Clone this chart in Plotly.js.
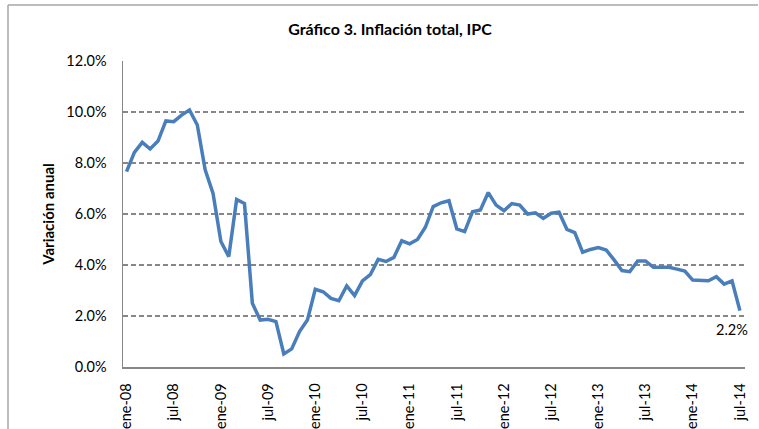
<!DOCTYPE html>
<html>
<head>
<meta charset="utf-8">
<script src="https://cdn.plot.ly/plotly-3.0.1.min.js"></script>
<style>
  html, body { margin: 0; padding: 0; background: #ffffff; }
  #chart { width: 759px; height: 429px; }
</style>
</head>
<body>
<div id="chart"></div>
<script>
// Month names (Spanish abbreviations) and years used to build the category labels
const MESES = ["ene", "feb", "mar", "abr", "may", "jun", "jul", "ago", "sep", "oct", "nov", "dic"];
const YEARS = ["08", "09", "10", "11", "12", "13", "14"];

// Annual inflation (%) by month, ene-08 .. jul-14
const inflacion2008 = [7.66, 8.42, 8.81, 8.55, 8.86, 9.65, 9.62, 9.88, 10.08, 9.49, 7.73, 6.81];
const inflacion2009 = [4.92, 4.33, 6.57, 6.41, 2.50, 1.84, 1.87, 1.78, 0.51, 0.71, 1.39, 1.84];
const inflacion2010 = [3.05, 2.95, 2.69, 2.60, 3.18, 2.80, 3.38, 3.62, 4.22, 4.14, 4.30, 4.95];
const inflacion2011 = [4.83, 5.00, 5.48, 6.29, 6.44, 6.52, 5.42, 5.31, 6.09, 6.16, 6.84, 6.35];
const inflacion2012 = [6.13, 6.41, 6.35, 6.00, 6.05, 5.83, 6.03, 6.07, 5.40, 5.27, 4.50, 4.61];
const inflacion2013 = [4.68, 4.59, 4.20, 3.78, 3.74, 4.16, 4.16, 3.91, 3.91, 3.91, 3.84, 3.76];
const inflacion2014 = [3.41, 3.38, 3.38, 3.54, 3.25, 3.38, 2.21];

const yTickVals = [0, 2, 4, 6, 8, 10, 12];
const yTickText = ["0.0%", "2.0%", "4.0%", "6.0%", "8.0%", "10.0%", "12.0%"];
const lastLabel = "2.2%";

const valores = [].concat(inflacion2008, inflacion2009, inflacion2010,
  inflacion2011, inflacion2012, inflacion2013, inflacion2014);

const meses = [];
YEARS.forEach(y => MESES.forEach(m => meses.push(m + "-" + y)));
meses.length = valores.length;

const xTickVals = meses.filter((m, i) => i % 6 === 0);
const idx = meses.map((m, i) => i);

const FONT = "Lato, 'Open Sans', sans-serif";
const GRAY = "#878787";

const trace = {
  x: idx,
  y: valores,
  type: "scatter",
  mode: "lines",
  line: { color: "#4a7ebb", width: 3.5 },
  hoverinfo: "skip"
};

// paper coordinates for the chart-area border (top and left edges)
const L = 123, R = 14, T = 61, B = 62, W = 759, H = 429;
const pw = W - L - R, ph = H - T - B;
const px = v => (v - L) / pw;
const py = v => (H - B - v) / ph;

const layout = {
  width: W,
  height: H,
  margin: { l: L, r: R, t: T, b: B, pad: 0 },
  paper_bgcolor: "#ffffff",
  plot_bgcolor: "#ffffff",
  showlegend: false,
  font: { family: FONT, color: "#000000", size: 14 },
  title: {
    text: "<b>Gráfico 3. Inflación total, IPC</b>",
    font: { family: FONT, size: 16, color: "#000000" },
    x: 390 / W, xref: "container", xanchor: "center",
    y: 1 - 29 / H, yref: "container", yanchor: "middle"
  },
  xaxis: {
    range: [-0.45, valores.length - 1 + 0.65],
    tickmode: "array",
    tickvals: idx.filter(i => i % 6 === 0),
    ticktext: xTickVals,
    tickangle: -90,
    ticks: "",
    ticklabelstandoff: 9,
    tickfont: { family: FONT, size: 14.5, color: "#000000" },
    showgrid: false,
    zeroline: false,
    showline: true,
    linecolor: GRAY,
    linewidth: 1.5,
    fixedrange: true
  },
  yaxis: {
    range: [0, 12],
    tickmode: "array",
    tickvals: yTickVals,
    ticktext: yTickText,
    ticks: "inside",
    ticklen: 5,
    tickcolor: GRAY,
    tickwidth: 1.2,
    ticklabelstandoff: 12,
    tickfont: { family: FONT, size: 14.5, color: "#000000" },
    showgrid: true,
    gridcolor: GRAY,
    gridwidth: 1.2,
    griddash: "5px,3px",
    zeroline: false,
    showline: true,
    linecolor: GRAY,
    linewidth: 1.5,
    title: {
      text: "<b>Variación anual</b>",
      font: { family: FONT, size: 15, color: "#000000" },
      standoff: 8
    },
    fixedrange: true
  },
  annotations: [{
    x: valores.length - 1,
    y: valores[valores.length - 1],
    xref: "x", yref: "y",
    text: lastLabel,
    showarrow: false,
    xanchor: "center",
    yanchor: "middle",
    xshift: -8,
    yshift: -19,
    font: { family: FONT, size: 14.5, color: "#000000" }
  }],
  shapes: [
    { type: "line", xref: "paper", yref: "paper", x0: px(8), x1: px(758), y0: py(5), y1: py(5),
      line: { color: "#a6a6a6", width: 1.5 } },
    { type: "line", xref: "paper", yref: "paper", x0: px(8), x1: px(8), y0: py(5), y1: py(429),
      line: { color: "#a6a6a6", width: 1.5 } }
  ]
};

Plotly.newPlot("chart", [trace], layout, { displayModeBar: false, staticPlot: true });
</script>
</body>
</html>
